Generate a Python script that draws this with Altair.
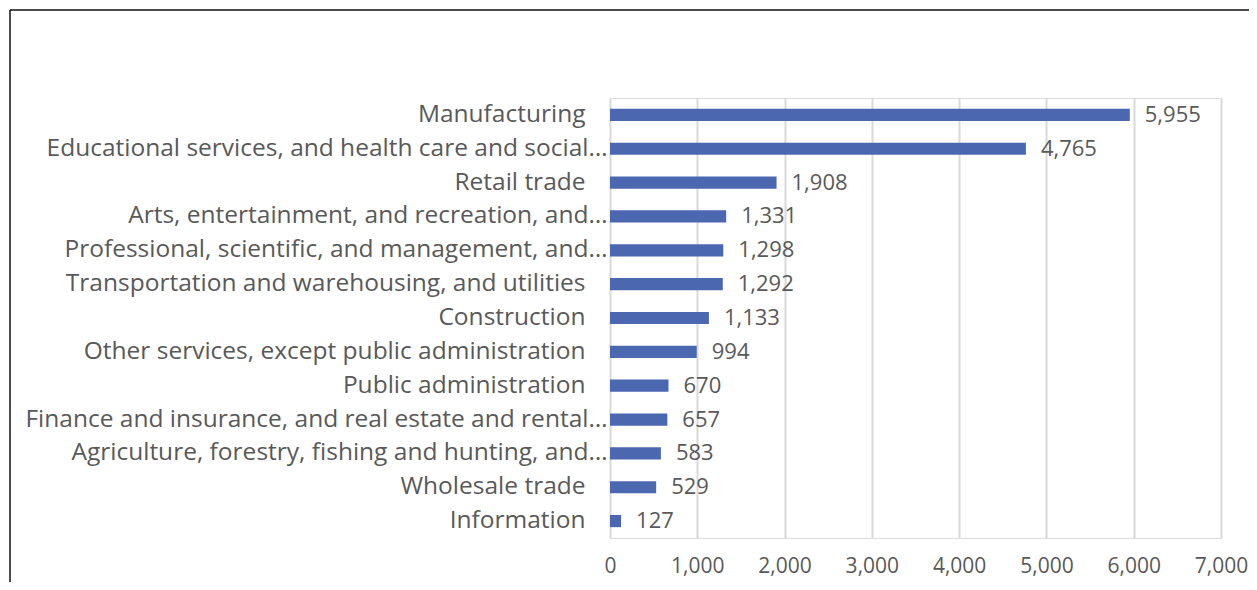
import altair as alt
import pandas as pd

categories = [
    "Manufacturing",
    "Educational services, and health care and social…",
    "Retail trade",
    "Arts, entertainment, and recreation, and…",
    "Professional, scientific, and management, and…",
    "Transportation and warehousing, and utilities",
    "Construction",
    "Other services, except public administration",
    "Public administration",
    "Finance and insurance, and real estate and rental…",
    "Agriculture, forestry, fishing and hunting, and…",
    "Wholesale trade",
    "Information",
]
values = [5955, 4765, 1908, 1331, 1298, 1292, 1133, 994, 670, 657, 583, 529, 127]
x_ticks = [0, 1000, 2000, 3000, 4000, 5000, 6000, 7000]

df = pd.DataFrame({"category": categories, "value": values})

FONT = "Open Sans"
TEXT = "#595959"
BAR = "#4A67AF"

y_enc = alt.Y(
    "category:N",
    sort=categories,
    title=None,
    scale=alt.Scale(paddingInner=0.64, paddingOuter=0.32),
    axis=alt.Axis(
        ticks=False,
        domain=False,
        labelFont=FONT,
        labelFontSize=24.5,
        labelColor=TEXT,
        labelLimit=700,
        labelPadding={"expr": "indexof(datum.label, '…') >= 0 ? 3 : 25"},
    ),
)
x_enc = alt.X(
    "value:Q",
    title=None,
    scale=alt.Scale(domain=[0, 7000], nice=False),
    axis=alt.Axis(
        values=x_ticks,
        format=",d",
        ticks=False,
        domain=False,
        grid=True,
        gridColor="#D9D9D9",
        gridWidth=2,
        labelFont=FONT,
        labelFontSize=21,
        labelColor=TEXT,
        labelPadding=17,
        labelFlush=False,
        labelOverlap=False,
    ),
)

bars = alt.Chart(df).mark_bar(color=BAR).encode(x=x_enc, y=y_enc)
labels = alt.Chart(df).mark_text(
    align="left", baseline="middle", dx=15, font=FONT, fontSize=22, color=TEXT
).encode(x="value:Q", y=alt.Y("category:N", sort=categories), text=alt.Text("value:Q", format=",d"))

frame_df = pd.DataFrame({"a": [0]})
frame_left = alt.Chart(frame_df).mark_rule(color="#111111", strokeWidth=1.5).encode(
    x=alt.value(-600), y=alt.value(-88), y2=alt.value(600)
)
frame_top = alt.Chart(frame_df).mark_rule(color="#111111", strokeWidth=1.5).encode(
    x=alt.value(-600), x2=alt.value(700), y=alt.value(-88)
)

chart = alt.layer(bars, labels, frame_left, frame_top).properties(
    width=611,
    height=440,
    autosize=alt.AutoSizeParams(type="none"),
    padding={"left": 602, "top": 90, "right": 28, "bottom": 44},
).configure_view(stroke=None).configure(background="white")

chart.save("out.html", embed_options={"renderer": "svg", "actions": False})
